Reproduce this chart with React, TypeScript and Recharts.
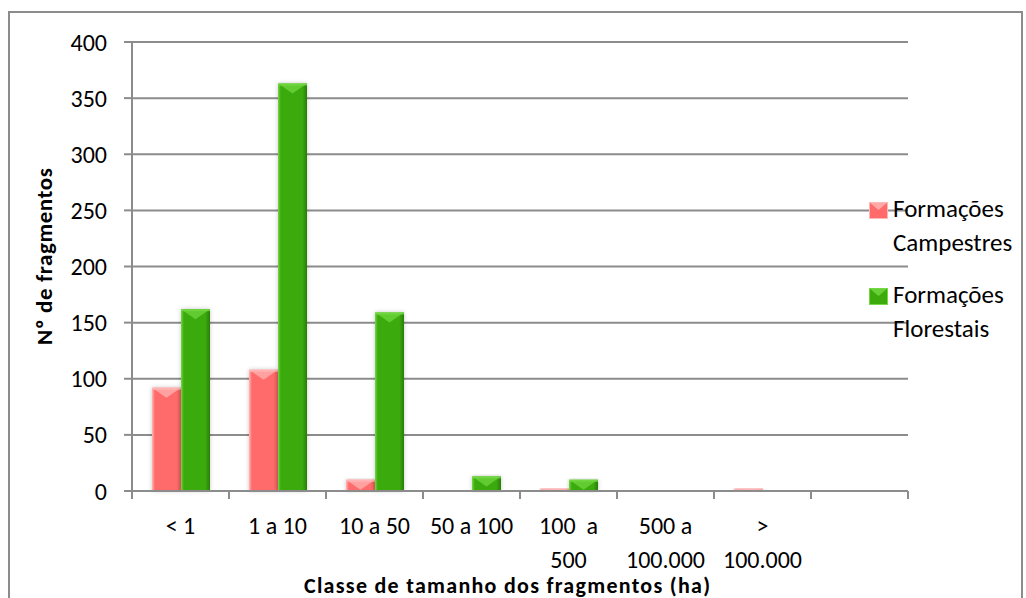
import React from 'react';
import { BarChart, Bar, XAxis, YAxis, CartesianGrid, Legend } from 'recharts';

// Size classes of the fragments (ha); "\n" marks where a label wraps
const categories = ['< 1', '1 a 10', '10 a 50', '50 a 100', '100  a\n500', '500 a\n100.000', '>\n100.000', ''];
// Number of fragments per class
const campestres = [92, 108, 10, 0, 2, 0, 2, 0];
const florestais = [162, 363, 159, 13, 10, 0, 0, 0];
const yTicks = [0, 50, 100, 150, 200, 250, 300, 350, 400];

const seriesKeys = ['campestres', 'florestais'];
const seriesNames = ['Formações Campestres', 'Formações Florestais'];
const seriesColors = ['#FF6B6B', '#3BAA0A'];
const seriesLight = ['#FFB8B8', '#74D844'];
const seriesDark = ['#E35B5B', '#2A7D06'];

const yTitle = 'Nº de fragmentos';
const xTitle = 'Classe de tamanho dos fragmentos (ha)';

const data = categories.map((name, i) => ({
  name,
  campestres: campestres[i],
  florestais: florestais[i],
}));

const FONT = "Carlito, Calibri, Lato, 'Open Sans', sans-serif";
const AXIS = '#8c8c8c';

const makeBarShape = (idx: number) => (props: any) => {
  const { x, y, width, height } = props;
  if (!height || height <= 0.5) return <g />;
  const d = Math.min(10, height);
  return (
    <g filter="url(#barGlow)">
      <rect x={x} y={y} width={width} height={height} fill={`url(#barGrad${idx})`} />
      <polygon
        points={`${x},${y} ${x + width},${y} ${x + width / 2},${y + d}`}
        fill={seriesLight[idx]}
        opacity={0.7}
      />
      <rect x={x} y={y} width={width} height={Math.min(2, height)} fill={seriesLight[idx]} opacity={0.8} />
    </g>
  );
};

const XTick = (props: any) => {
  const { x, y, payload, index } = props;
  const half = payload && typeof payload.offset === 'number' && payload.offset > 0 ? payload.offset : 48.5;
  const lines = String(payload.value).split('\n');
  return (
    <g>
      <line x1={x - half} x2={x - half} y1={y} y2={y + 8} stroke={AXIS} strokeWidth={2} />
      {index === categories.length - 1 && (
        <line x1={x + half} x2={x + half} y1={y} y2={y + 8} stroke={AXIS} strokeWidth={2} />
      )}
      {lines.map((ln, i) =>
        ln ? (
          <text
            key={i}
            x={x}
            y={y + 35 + i * 34}
            dy="0.35em"
            textAnchor="middle"
            fontSize={24}
            fill="#000"
            style={{ whiteSpace: 'pre' }}
          >
            {ln}
          </text>
        ) : null
      )}
    </g>
  );
};

const LegendMarker = ({ idx }: { idx: number }) => (
  <svg width={19} height={17} style={{ position: 'absolute', left: 3, top: 10 }}>
    <rect x={0} y={0} width={19} height={17} fill={seriesColors[idx]} />
    <rect x={0.5} y={0.5} width={18} height={16} fill="none" stroke={seriesLight[idx]} strokeWidth={1} />
    <polygon points="0,0 19,0 9.5,8" fill={seriesLight[idx]} opacity={0.8} />
  </svg>
);

const LegendBox = () => (
  <div style={{ fontFamily: FONT, fontSize: 25, lineHeight: '34px', color: '#000' }}>
    {seriesNames.map((n, i) => {
      const [first, ...rest] = n.split(' ');
      return (
        <div key={n} style={{ position: 'relative', paddingLeft: 27, marginBottom: i === 0 ? 18 : 0 }}>
          <LegendMarker idx={i} />
          <div>{first}</div>
          <div>{rest.join(' ')}</div>
        </div>
      );
    })}
  </div>
);

export default function App() {
  return (
    <div style={{ position: 'absolute', left: 0, top: 0, width: 1026, height: 598, fontFamily: FONT, background: '#fff' }}>
      <div
        style={{
          position: 'absolute',
          left: 8,
          top: 11,
          width: 1015,
          height: 600,
          border: `2px solid ${AXIS}`,
          boxSizing: 'border-box',
        }}
      />
      <BarChart
        width={1026}
        height={598}
        data={data}
        margin={{ top: 42, right: 118, bottom: 0, left: 0 }}
        barSize={29}
        barGap={0}
        style={{ fontFamily: FONT }}
      >
        <defs>
          {seriesColors.map((c, i) => (
            <linearGradient key={i} id={`barGrad${i}`} x1="0" y1="0" x2="1" y2="0">
              <stop offset="0%" stopColor={seriesLight[i]} />
              <stop offset="10%" stopColor={c} />
              <stop offset="84%" stopColor={c} />
              <stop offset="100%" stopColor={seriesDark[i]} />
            </linearGradient>
          ))}
          <filter id="barGlow" x="-30%" y="-10%" width="160%" height="120%">
            <feDropShadow dx="0" dy="0" stdDeviation="2" floodColor="#000" floodOpacity="0.22" />
          </filter>
        </defs>
        <CartesianGrid vertical={false} stroke={AXIS} strokeWidth={2} />
        <XAxis
          dataKey="name"
          height={107}
          interval={0}
          tickSize={0}
          tickMargin={0}
          tickLine={false}
          axisLine={{ stroke: AXIS, strokeWidth: 2 }}
          tick={<XTick />}
          label={{
            content: (p: any) => {
              const vb = p.viewBox || { x: 132, y: 491, width: 776 };
              return (
                <text
                  x={vb.x + vb.width / 2 - 13}
                  y={vb.y + 102}
                  textAnchor="middle"
                  fontSize={22}
                  fontWeight="bold"
                  fill="#000"
                  fontFamily={FONT}
                  textLength={406}
                  lengthAdjust="spacing"
                >
                  {xTitle}
                </text>
              );
            },
          }}
        />
        <YAxis
          domain={[0, 400]}
          ticks={yTicks}
          interval={0}
          width={132}
          tickSize={8}
          tickMargin={17}
          axisLine={{ stroke: AXIS, strokeWidth: 2 }}
          tickLine={{ stroke: AXIS, strokeWidth: 2 }}
          tick={{ fontSize: 24, fill: '#000', fontFamily: FONT }}
          label={{
            content: (p: any) => {
              const vb = p.viewBox || { x: 0, y: 42, height: 449 };
              const cx = vb.x + 44;
              const cy = vb.y + vb.height / 2 - 10;
              return (
                <text
                  x={cx}
                  y={cy}
                  dy="0.35em"
                  textAnchor="middle"
                  fontSize={23}
                  fontWeight="bold"
                  fill="#000"
                  fontFamily={FONT}
                  textLength={177}
                  lengthAdjust="spacing"
                  transform={`rotate(-90, ${cx}, ${cy})`}
                >
                  {yTitle}
                </text>
              );
            },
          }}
        />
        <Legend
          layout="vertical"
          align="center"
          verticalAlign="middle"
          wrapperStyle={{ position: 'absolute', left: 866, top: 192, width: 160 }}
          content={() => <LegendBox />}
        />
        {seriesKeys.map((k, i) => (
          <Bar
            key={k}
            dataKey={k}
            name={seriesNames[i]}
            fill={seriesColors[i]}
            isAnimationActive={false}
            shape={makeBarShape(i)}
          />
        ))}
      </BarChart>
    </div>
  );
}
